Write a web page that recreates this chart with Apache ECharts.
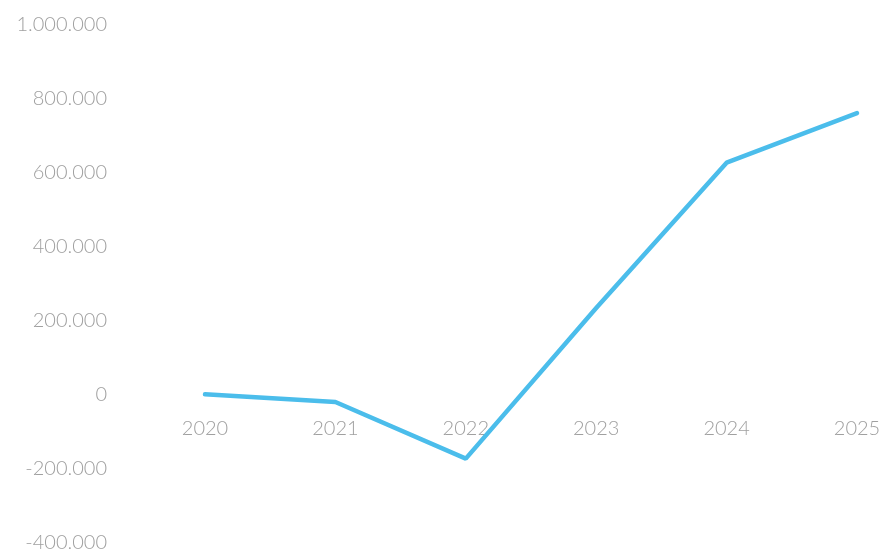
<!DOCTYPE html>
<html>
<head>
<meta charset="utf-8">
<script src="https://cdn.jsdelivr.net/npm/echarts@6/dist/echarts.min.js"></script>
<style>
  html, body { margin: 0; padding: 0; background: #fff; }
  #chart { width: 881px; height: 551px; }
</style>
</head>
<body>
<div id="chart"></div>
<script>
const years = ['2020', '2021', '2022', '2023', '2024', '2025']
const values = [2000, -19000, -172000, 235000, 628000, 762000]

// 1000000 -> "1.000.000"
const fmt = (v) => {
  const s = Math.abs(v).toString().replace(/\B(?=(\d{3})+(?!\d))/g, '.')
  return (v < 0 ? '-' : '') + s
}

const labelStyle = {
  color: '#a0a0a0',
  fontFamily: 'Lato',
  fontWeight: 300,
  fontSize: 20
}

const myChart = echarts.init(document.getElementById('chart'))
const option = {
  animation: false,
  grid: { left: 205, right: 24, top: 25, bottom: 8, containLabel: false, outerBoundsMode: 'none' },
  xAxis: {
    type: 'category',
    data: years,
    boundaryGap: false,
    offset: -148,
    axisLine: { show: false },
    axisTick: { show: false },
    splitLine: { show: false },
    axisLabel: { ...labelStyle, margin: 24 }
  },
  yAxis: {
    type: 'value',
    min: -400000,
    max: 1000000,
    interval: 200000,
    axisLine: { show: false },
    axisTick: { show: false },
    splitLine: { show: false },
    axisLabel: { ...labelStyle, margin: 98, formatter: fmt }
  },
  series: [
    {
      type: 'line',
      data: values,
      symbol: 'none',
      lineStyle: { color: '#4bbdeb', width: 4.5, cap: 'round' }
    }
  ]
}
myChart.setOption(option)
</script>
</body>
</html>
